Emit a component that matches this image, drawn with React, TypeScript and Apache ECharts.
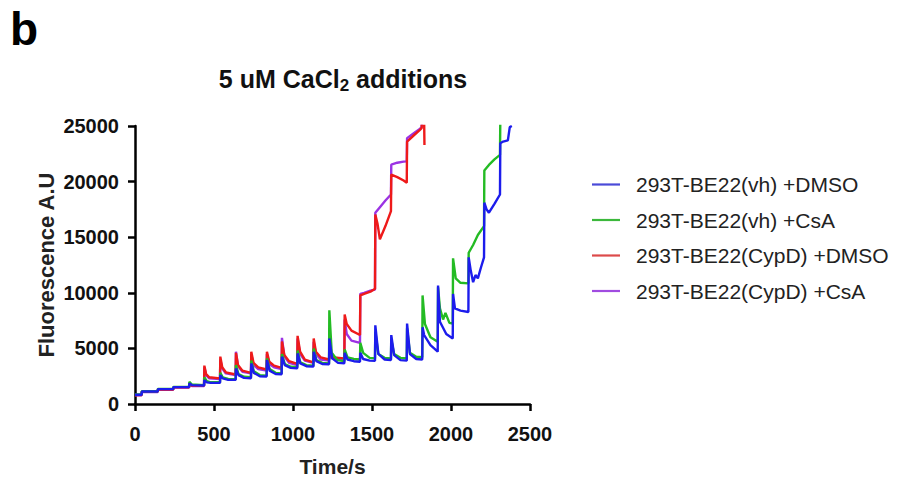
import React, { useEffect, useRef } from "react";
import * as echarts from "echarts";

const xTicks = [0, 500, 1000, 1500, 2000, 2500];
const yTicks = [0, 5000, 10000, 15000, 20000, 25000];
const seriesNames = [
  "293T-BE22(vh) +DMSO",
  "293T-BE22(vh) +CsA",
  "293T-BE22(CypD) +DMSO",
  "293T-BE22(CypD) +CsA",
];
const seriesColors = ["#1c1cec", "#24bb24", "#ee1a1a", "#9b33e3"];
const legendColors = ["#4a4ad8", "#3cb83c", "#dc4a4a", "#a04ce0"];

// [time (s), fluorescence A.U.]
const vhDmso: [number, number][] = [
  [0, 830], [42, 830], [43, 1130], [144, 1130], [145, 1340], [242, 1340], [243, 1520], [342, 1520],
  [344, 1850], [360, 1700], [437, 1670], [439, 2150], [455, 1950], [480, 1900], [538, 1900],
  [540, 2600], [555, 2300], [590, 2170], [637, 2170], [639, 3200], [655, 2600], [690, 2350],
  [734, 2320], [736, 3650], [752, 2800], [790, 2500], [833, 2470], [835, 3950], [852, 3000],
  [890, 2700], [928, 2680], [930, 4250], [948, 3500], [985, 3250], [1027, 3210], [1029, 4550],
  [1046, 3650], [1085, 3400], [1129, 3360], [1131, 4700], [1148, 3850], [1185, 3600], [1228, 3570],
  [1230, 5900], [1248, 4100], [1285, 3700], [1325, 3660], [1327, 4600], [1345, 4000], [1385, 3850],
  [1424, 3800], [1426, 4600], [1444, 4050], [1485, 3900], [1519, 3880], [1521, 7080], [1540, 4500],
  [1580, 4000], [1620, 3950], [1622, 6200], [1640, 4400], [1680, 3950], [1720, 3900], [1722, 7230],
  [1740, 4500], [1780, 4050], [1818, 4000], [1820, 6900], [1830, 6200], [1870, 5300], [1916, 4700],
  [1918, 10650], [1930, 7400], [1970, 6300], [2011, 5900], [2013, 9900], [2025, 8600], [2060, 8400],
  [2110, 8270], [2112, 13190], [2125, 12000], [2140, 10950], [2155, 11600], [2170, 11300], [2190, 12300],
  [2209, 13190], [2211, 18100], [2225, 17500], [2240, 17200], [2275, 18000], [2310, 18840],
  [2312, 23450], [2330, 23600], [2360, 23700], [2372, 24900], [2385, 25000],
];

const vhCsa: [number, number][] = [
  [0, 850], [42, 850], [43, 1150], [144, 1150], [145, 1360], [242, 1360], [243, 1540], [342, 1540],
  [344, 2000], [360, 1750], [437, 1700], [439, 2400], [455, 2050], [480, 1950], [538, 1950],
  [540, 2800], [555, 2400], [590, 2250], [637, 2230], [639, 3500], [655, 2700], [690, 2450],
  [734, 2400], [736, 3900], [752, 2950], [790, 2600], [833, 2550], [835, 4100], [852, 3150],
  [890, 2800], [928, 2750], [930, 4500], [948, 3600], [985, 3350], [1027, 3300], [1029, 4800],
  [1046, 3750], [1085, 3500], [1129, 3450], [1131, 5000], [1148, 3950], [1185, 3700], [1228, 3650],
  [1230, 8420], [1245, 4600], [1280, 3950], [1325, 3850], [1327, 4900], [1345, 4200], [1385, 4050],
  [1424, 4000], [1426, 5500], [1444, 4600], [1485, 4150], [1519, 4100], [1521, 6500], [1540, 4500],
  [1580, 4150], [1620, 4100], [1622, 5800], [1640, 4500], [1680, 4150], [1720, 4100], [1722, 6800],
  [1740, 4600], [1780, 4250], [1818, 4200], [1820, 9760], [1835, 7200], [1870, 6000], [1916, 5600],
  [1918, 10500], [1930, 8600], [1950, 7600], [1965, 8200], [1990, 7300], [2011, 7230],
  [2013, 13100], [2030, 11300], [2060, 10900], [2110, 10850], [2112, 13600], [2140, 14300],
  [2170, 15200], [2209, 16000], [2211, 21000], [2240, 21500], [2275, 22000], [2310, 22400],
  [2312, 25500], [2325, 25500],
];

const cypdDmso: [number, number][] = [
  [0, 800], [42, 800], [43, 1100], [144, 1100], [145, 1300], [242, 1300], [243, 1500], [342, 1500],
  [344, 1800], [360, 1650], [437, 1650], [439, 3450], [450, 2700], [470, 2400], [538, 2300],
  [540, 4260], [552, 3300], [575, 2850], [637, 2650], [639, 4600], [652, 3500], [680, 3000],
  [734, 2800], [736, 4700], [750, 3700], [780, 3300], [833, 3100], [835, 4700], [850, 3800],
  [880, 3450], [928, 3250], [930, 5620], [945, 4400], [975, 3850], [1027, 3600], [1029, 6130],
  [1045, 4700], [1075, 4000], [1129, 3750], [1131, 5890], [1145, 4700], [1175, 4200], [1228, 4000],
  [1230, 4400], [1250, 4200], [1290, 4150], [1325, 4100], [1327, 8040], [1340, 7200], [1370, 6600],
  [1424, 6200], [1426, 9760], [1450, 9900], [1490, 10100], [1519, 10360], [1521, 17050],
  [1535, 16200], [1550, 14820], [1585, 16000], [1620, 17350], [1622, 20630], [1660, 20400],
  [1700, 20100], [1720, 19900], [1722, 23600], [1760, 24100], [1800, 24600], [1814, 24800],
  [1816, 25500], [1830, 25500], [1832, 23300],
];

const cypdCsa: [number, number][] = [
  [0, 780], [42, 780], [43, 1080], [144, 1080], [145, 1280], [242, 1280], [243, 1480], [342, 1480],
  [344, 1750], [360, 1620], [437, 1620], [439, 3300], [450, 2600], [470, 2300], [538, 2250],
  [540, 4000], [552, 3200], [575, 2750], [637, 2600], [639, 4700], [652, 3400], [680, 2900],
  [734, 2750], [736, 4500], [750, 3500], [780, 3150], [833, 3000], [835, 4500], [850, 3600],
  [880, 3300], [928, 3150], [930, 5950], [945, 4300], [975, 3700], [1027, 3500], [1029, 5900],
  [1045, 4500], [1075, 3900], [1129, 3700], [1131, 5600], [1145, 4500], [1175, 4000], [1228, 3900],
  [1230, 4300], [1250, 4100], [1290, 4050], [1325, 4000], [1327, 7600], [1340, 6300], [1370, 5700],
  [1424, 5500], [1426, 9910], [1450, 10000], [1490, 10200], [1519, 10300], [1521, 17200],
  [1550, 17700], [1585, 18300], [1620, 18840], [1622, 21520], [1660, 21700], [1700, 21800],
  [1720, 21820], [1722, 23900], [1760, 24300], [1800, 24700], [1814, 24900], [1816, 25500],
  [1910, 25500],
];

const FONT = "'Liberation Sans', Arial, sans-serif";

export default function App() {
  const ref = useRef<HTMLDivElement>(null);
  useEffect(() => {
    if (!ref.current) return;
    const chart = echarts.init(ref.current, undefined, { renderer: "svg" });
    const dataSets = [vhDmso, vhCsa, cypdDmso, cypdCsa];
    const drawOrder = [3, 2, 1, 0];
    chart.setOption({
      animation: false,
      backgroundColor: "#ffffff",
      textStyle: { fontFamily: FONT },
      title: {
        text: "{a|5 uM CaCl}{s|2}{a| additions}",
        left: 338,
        top: 58,
        textAlign: "center",
        textStyle: {
          rich: {
            a: { fontSize: 25, fontWeight: "bold", color: "#111", fontFamily: FONT },
            s: { fontSize: 17, fontWeight: "bold", color: "#111", fontFamily: FONT, padding: [14, 0, 0, 0] },
          },
        },
      },
      graphic: [
        {
          type: "text",
          left: 10,
          top: 6,
          style: { text: "b", fontSize: 46, fontWeight: "bold", fill: "#000", fontFamily: FONT },
        },
      ],
      legend: {
        orient: "vertical",
        left: 587,
        top: 169,
        itemWidth: 28,
        itemHeight: 21,
        itemGap: 14.5,
        icon: "path://M0,0h28v2.2h-28z",
        data: seriesNames.map((n, i) => ({ name: n, itemStyle: { color: legendColors[i] } })),
        textStyle: { fontSize: 21, color: "#222", fontFamily: FONT, padding: [0, 0, 0, 11] },
      },
      grid: { left: 135, top: 126, width: 395, height: 280 },
      xAxis: {
        type: "value",
        min: 0,
        max: 2500,
        interval: 500,
        name: "Time/s",
        nameLocation: "middle",
        nameGap: 52,
        nameTextStyle: { fontSize: 21, fontWeight: "bold", color: "#222", fontFamily: FONT },
        axisLine: { show: true, onZero: false, lineStyle: { color: "#000", width: 2.5 } },
        axisTick: { show: true, length: 7, lineStyle: { color: "#000", width: 2.5 } },
        axisLabel: {
          fontSize: 20,
          fontWeight: "bold",
          color: "#111",
          margin: 20,
          formatter: (v: number) => (xTicks.includes(v) ? String(v) : ""),
        },
        splitLine: { show: false },
      },
      yAxis: {
        type: "value",
        min: 0,
        max: 25000,
        interval: 5000,
        name: "Fluorescence A.U",
        nameLocation: "middle",
        nameGap: 78,
        nameTextStyle: { fontSize: 22, fontWeight: "bold", color: "#222", fontFamily: FONT },
        axisLine: { show: true, lineStyle: { color: "#000", width: 2.5 } },
        axisTick: { show: true, length: 7, lineStyle: { color: "#000", width: 2.5 } },
        axisLabel: {
          fontSize: 20,
          fontWeight: "bold",
          color: "#111",
          margin: 16,
          formatter: (v: number) => (yTicks.includes(v) ? String(v) : ""),
        },
        splitLine: { show: false },
      },
      series: drawOrder.map((i) => ({
        name: seriesNames[i],
        type: "line",
        data: dataSets[i],
        symbol: "none",
        clip: true,
        color: seriesColors[i],
        lineStyle: { width: 2.4, color: seriesColors[i] },
      })),
    });
    return () => chart.dispose();
  }, []);
  return (
    <div
      ref={ref}
      style={{ position: "fixed", left: 0, top: 0, width: 902, height: 482, background: "#fff" }}
    />
  );
}
